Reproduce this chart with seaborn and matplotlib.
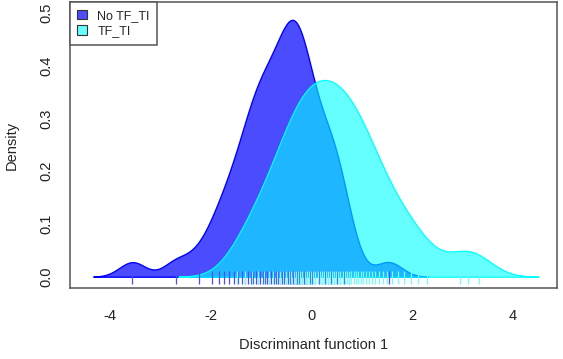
import numpy as np
import matplotlib
matplotlib.use("Agg")
import matplotlib.pyplot as plt
from matplotlib.patches import Patch
import seaborn as sns

no_tf_ti = [-3.55, -2.68, -2.24, -1.97, -1.84, -1.73, -1.63, -1.54, -1.45, -1.38,
            -1.32, -1.26, -1.20, -1.15, -1.11, -1.06, -1.02, -0.97, -0.93, -0.89,
            -0.84, -0.80, -0.75, -0.70, -0.66, -0.62, -0.58, -0.54, -0.50, -0.47,
            -0.43, -0.40, -0.37, -0.34, -0.31, -0.28, -0.25, -0.22, -0.19, -0.15,
            -0.12, -0.08, -0.03, 0.02, 0.07, 0.14, 0.21, 0.27, 0.33, 0.39,
            0.45, 0.50, 0.56, 0.64, 0.75, 1.53]
tf_ti = [-1.47, -1.32, -1.18, -1.06, -0.95, -0.85, -0.76, -0.69, -0.62, -0.56,
         -0.51, -0.45, -0.40, -0.35, -0.31, -0.26, -0.22, -0.18, -0.13, -0.09,
         -0.05, -0.01, 0.03, 0.07, 0.12, 0.16, 0.20, 0.24, 0.28, 0.32,
         0.36, 0.40, 0.45, 0.49, 0.53, 0.57, 0.62, 0.66, 0.70, 0.75,
         0.79, 0.84, 0.88, 0.93, 0.98, 1.03, 1.08, 1.14, 1.20, 1.26,
         1.33, 1.41, 1.50, 1.60, 1.71, 1.84, 1.97, 2.12, 2.29, 2.95,
         3.10, 3.33]
group_names = ["No TF_TI", "TF_TI"]

sns.set_theme(style="white")
plt.rcParams['font.family'] = ['Liberation Sans', 'DejaVu Sans']
plt.rcParams['font.size'] = 10.5

fig = plt.figure(figsize=(5.63, 3.59), dpi=100)
ax = fig.add_axes([0.1243, 0.1978, 0.9893 - 0.1243, 0.9944 - 0.1978])

# blue group, then its rug, then cyan on top (like the R overlay)
sns.kdeplot(x=no_tf_ti, bw_method=0.26 / np.std(no_tf_ti, ddof=1), fill=True,
            color="blue", alpha=0.7, linewidth=1.0, ax=ax)
ax.vlines(no_tf_ti, -0.0144, 0.0114, color=(0.3, 0.3, 1.0), linewidth=0.9)
sns.kdeplot(x=tf_ti, bw_method=0.39 / np.std(tf_ti, ddof=1), fill=True,
            color="cyan", alpha=0.6, linewidth=0.9, ax=ax)
ax.vlines(tf_ti, -0.0144, 0.0114, color=(0.45, 1.0, 1.0), linewidth=0.9)

ax.set_xlim(-4.79, 4.87)
ax.set_ylim(-0.0214, 0.5203)
ax.set_xticks([-4, -2, 0, 2, 4])
ax.set_xticklabels(["-4", "-2", "0", "2", "4"])
ax.set_yticks([0.0, 0.1, 0.2, 0.3, 0.4, 0.5])
ax.set_yticklabels(["0.0", "0.1", "0.2", "0.3", "0.4", "0.5"], rotation=90, va="center")
ax.tick_params(axis="both", direction="out", length=6, width=1, color="#555555",
               labelsize=10.5, labelcolor="#222222")
ax.tick_params(axis="x", pad=9)
ax.tick_params(axis="y", pad=6)
for sp in ax.spines.values():
    sp.set_color("#555555")
    sp.set_linewidth(1.1)
ax.set_xlabel("Discriminant function 1", fontsize=10.5, labelpad=11)
ax.set_ylabel("Density", fontsize=10.5, labelpad=15)

handles = [Patch(facecolor=(0.3, 0.3, 1.0), edgecolor="#333333", linewidth=0.8),
           Patch(facecolor=(0.4, 1.0, 1.0), edgecolor="#333333", linewidth=0.8)]
leg = ax.legend(handles, group_names, loc="upper left", borderaxespad=0,
                fancybox=False, framealpha=1, edgecolor="#555555", fontsize=9,
                handlelength=0.8, handleheight=0.8, handletextpad=0.8,
                borderpad=0.6, labelspacing=0.3)
leg.get_frame().set_linewidth(1.1)

fig.savefig("out.png", dpi=100)
